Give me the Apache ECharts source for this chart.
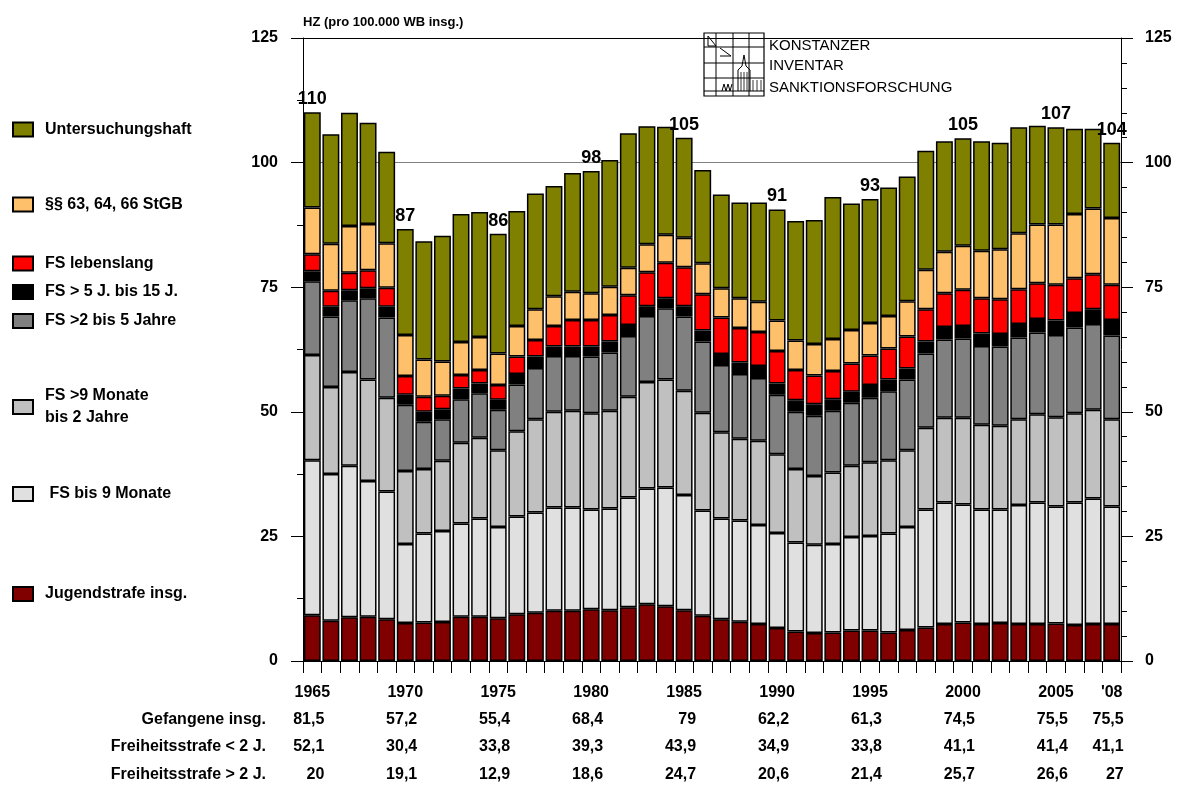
<!DOCTYPE html>
<html><head><meta charset="utf-8">
<script src="https://cdn.jsdelivr.net/npm/echarts@6/dist/echarts.min.js"></script>
<style>html,body{margin:0;padding:0;background:#fff}#c{width:1180px;height:787px}</style>
</head><body><div id="c"></div><script>
// ---------- DATA ----------
const years = ['1965','1966','1967','1968','1969','1970','1971','1972','1973','1974','1975','1976','1977','1978','1979','1980','1981','1982','1983','1984','1985','1986','1987','1988','1989','1990','1991','1992','1993','1994','1995','1996','1997','1998','1999','2000','2001','2002','2003','2004','2005','2006','2007','2008'];

const jugendstrafe = [9.2,8.1,8.8,8.9,8.4,7.6,7.7,7.8,8.9,8.9,8.6,9.4,9.7,10.1,10.1,10.4,10.2,10.8,11.4,11.0,10.2,9.1,8.4,7.9,7.4,6.6,5.9,5.6,5.7,6.1,6.1,5.7,6.2,6.7,7.4,7.7,7.4,7.6,7.4,7.4,7.5,7.2,7.4,7.4];
const fsBis9Monate = [31.1,29.4,30.4,27.2,25.6,15.9,17.9,18.3,18.7,19.7,18.3,19.6,20.1,20.7,20.7,20.0,20.4,22.0,23.2,23.8,23.1,21.1,20.2,20.3,19.9,19.1,17.9,17.7,17.8,18.8,19.0,19.9,20.7,23.7,24.4,23.7,23.0,22.8,23.9,24.4,23.5,24.6,25.2,23.6];
const fs9MonateBis2J = [21.1,17.5,18.8,20.4,18.8,14.6,12.9,14.1,16.2,16.2,15.4,17.1,18.7,19.2,19.4,19.3,19.6,20.2,21.4,21.7,20.9,19.6,17.3,16.4,16.9,15.8,14.7,13.8,14.3,14.3,14.8,14.7,15.4,16.4,17.0,17.4,17.0,16.8,17.2,17.7,17.9,17.9,17.8,17.5];
const fs2bis5J = [14.8,14.1,14.4,16.3,16.1,13.3,9.5,8.3,8.7,8.9,8.1,9.4,10.3,11.2,11.0,11.4,11.7,12.2,13.2,14.3,14.9,14.3,13.5,13.0,12.6,11.9,11.5,12.1,12.4,12.6,12.9,13.8,14.2,14.9,15.7,15.9,15.8,15.9,16.4,16.4,16.5,17.2,17.2,16.8];
const fs5bis15J = [2.0,2.0,2.0,2.0,2.2,2.0,2.0,2.0,2.2,2.0,2.0,2.1,2.3,1.9,1.9,2.0,2.2,2.2,2.0,2.0,2.1,2.2,2.2,2.3,2.4,2.3,2.3,2.3,2.3,2.2,2.6,2.4,2.2,2.4,2.5,2.5,2.5,2.5,2.7,2.7,2.9,2.9,3.0,3.1];
const fsLebenslang = [3.4,3.2,3.5,3.6,3.8,3.8,3.0,2.7,2.7,2.7,3.0,3.5,3.3,4.1,5.3,5.3,5.3,6.0,6.8,7.1,7.8,7.3,7.3,6.9,6.8,6.5,6.1,5.8,5.7,5.7,5.9,6.2,6.4,6.5,6.8,7.3,7.1,7.0,7.0,7.2,7.2,7.0,7.0,7.1];
const massregeln = [9.4,9.4,9.4,9.3,8.9,8.2,7.5,6.9,6.6,6.6,6.3,6.1,6.2,6.0,5.7,5.4,5.7,5.5,5.6,5.6,5.9,6.2,5.9,6.0,6.1,6.1,5.9,6.3,6.4,6.7,6.5,6.5,7.1,7.9,8.3,8.8,9.5,10.0,11.2,11.8,12.1,12.9,13.2,13.4];
const untersuchungshaft = [19.1,22.0,22.7,20.3,18.4,21.3,23.7,25.2,25.7,25.1,24.0,23.1,23.2,22.1,23.8,24.5,25.4,27.0,23.7,21.7,20.1,18.7,18.8,19.2,19.9,22.3,24.0,24.9,28.5,25.4,24.9,25.8,25.0,23.9,22.2,21.6,22.0,21.4,21.3,19.8,19.5,17.1,16.0,15.1];

// labels above bars
const topLabelYears = ['1965','1970','1975','1980','1985','1990','1995','2000','2005','2008'];
const topLabelValues = [110,87,86,98,105,91,93,105,107,104];

// x tick labels
const tickYears = ['1965','1970','1975','1980','1985','1990','1995','2000','2005','2008'];
const tickLabels = ['1965','1970','1975','1980','1985','1990','1995','2000','2005',"'08"];

// table under chart
const tableYears = ['1965','1970','1975','1980','1985','1990','1995','2000','2005','2008'];
const rowNames = ['Gefangene insg.','Freiheitsstrafe < 2 J.','Freiheitsstrafe > 2 J.'];
const gefangeneInsg = [81.5,57.2,55.4,68.4,79,62.2,61.3,74.5,75.5,75.5];
const fsUnter2J = [52.1,30.4,33.8,39.3,43.9,34.9,33.8,41.1,41.4,41.1];
const fsUeber2J = [20,19.1,12.9,18.6,24.7,20.6,21.4,25.7,26.6,27];

// ---------- CHART ----------
const FONT = '"Liberation Sans", Arial, Helvetica, sans-serif';
const chart = echarts.init(document.getElementById('c'), null, {renderer:'canvas'});

const seriesDefs = [
  {name:'Jugendstrafe insg.', data:jugendstrafe, color:'#800000', legendY:594},
  {name:' FS bis 9 Monate', data:fsBis9Monate, color:'#E0E0E0', legendY:494},
  {name:'FS >9 Monate bis 2 Jahre', data:fs9MonateBis2J, color:'#C0C0C0', legendY:407, twoLine:true},
  {name:'FS >2 bis 5 Jahre', data:fs2bis5J, color:'#808080', legendY:321},
  {name:'FS > 5 J. bis 15 J.', data:fs5bis15J, color:'#000000', legendY:292},
  {name:'FS lebenslang', data:fsLebenslang, color:'#FF0000', legendY:263.5},
  {name:'§§ 63, 64, 66 StGB', data:massregeln, color:'#FFC06C', legendY:204.5},
  {name:'Untersuchungshaft', data:untersuchungshaft, color:'#808000', legendY:129.5}
];

const series = seriesDefs.map((d, i) => ({
  name: d.name,
  type: 'bar',
  stack: 'total',
  data: d.data,
  barCategoryGap: '9%',
  itemStyle: {color: d.color, borderColor: '#000', borderWidth: 1.5},
  emphasis: {disabled: true},
  label: i === seriesDefs.length - 1 ? {
    show: true, position: 'top', distance: 4,
    fontFamily: FONT, fontWeight: 'bold', fontSize: 18, color: '#000',
    formatter: p => {
      const k = topLabelYears.indexOf(p.name);
      return k >= 0 ? String(topLabelValues[k]) : '';
    }
  } : {show: false}
}));

const legends = seriesDefs.map(d => ({
  data: [d.name],
  left: 12,
  top: d.twoLine ? d.legendY - 22 : d.legendY - 9,
  padding: 0,
  icon: 'rect',
  itemWidth: 20,
  itemHeight: 14,
  selectedMode: false,
  formatter: d.twoLine ? () => 'FS >9 Monate\nbis 2 Jahre' : undefined,
  textStyle: {fontFamily: FONT, fontWeight: 'bold', fontSize: 16, color: '#000',
              lineHeight: d.twoLine ? 22 : 18, padding: [0,0,0,7]}
}));

const fmtNum = v => String(v).replace('.', ',');
const tableRows = [gefangeneInsg, fsUnter2J, fsUeber2J];
const rowOffsets = [59, 86, 114];

const tableAxes = tableRows.map((row, r) => ({
  type: 'category', data: years, gridIndex: 0, position: 'bottom', offset: rowOffsets[r],
  axisLine: {show: false}, axisTick: {show: false}, splitLine: {show: false},
  axisLabel: {
    interval: 0, margin: 0, verticalAlign: 'middle', align: 'right', padding: [0,-12,0,0],
    fontFamily: FONT, fontWeight: 'bold', fontSize: 16, color: '#000',
    formatter: v => { const k = tableYears.indexOf(v); return k >= 0 ? fmtNum(row[k]) : ''; }
  }
}));

const rowTitleTexts = rowNames.map((n, r) => ({
  type: 'text', x: 266, y: 661 + rowOffsets[r],
  style: {text: n, font: 'bold 16px ' + FONT, fill: '#000', textAlign: 'right', textVerticalAlign: 'middle', verticalAlign: 'middle'}
}));

const yCommon = {
  type: 'value', min: 0, max: 125, interval: 25,
  axisLine: {show: true, lineStyle: {color: '#000', width: 1}},
  axisTick: {show: true, length: 12, lineStyle: {color: '#000'}},
  axisLabel: {fontFamily: FONT, fontWeight: 'bold', fontSize: 16, color: '#000'}
};

// logo drawing
const logoChildren = [
  {type:'rect', shape:{x:700, y:29, width:278, height:70}, style:{fill:'#fff'}},
  {type:'rect', shape:{x:704, y:33, width:60, height:63}, style:{fill:'#fff', stroke:'#000', lineWidth:1.2}},
  {type:'line', shape:{x1:716, y1:33, x2:716, y2:96}, style:{stroke:'#000', lineWidth:1}},
  {type:'line', shape:{x1:733, y1:33, x2:733, y2:96}, style:{stroke:'#000', lineWidth:1}},
  {type:'line', shape:{x1:749, y1:33, x2:749, y2:96}, style:{stroke:'#000', lineWidth:1}},
  {type:'line', shape:{x1:704, y1:47, x2:764, y2:47}, style:{stroke:'#000', lineWidth:1}},
  {type:'line', shape:{x1:704, y1:63, x2:764, y2:63}, style:{stroke:'#000', lineWidth:1}},
  {type:'line', shape:{x1:704, y1:78, x2:764, y2:78}, style:{stroke:'#000', lineWidth:1}},
  {type:'line', shape:{x1:704, y1:91, x2:764, y2:91}, style:{stroke:'#000', lineWidth:1}},
  {type:'polyline', shape:{points:[[708,36],[708,46],[716,46],[708,36]]}, style:{stroke:'#000', fill:'none', lineWidth:1}},
  {type:'polyline', shape:{points:[[720,48],[731,56],[720,56]]}, style:{stroke:'#000', fill:'none', lineWidth:1}},
  {type:'polyline', shape:{points:[[738,91],[738,70],[742,66],[744,55],[746,66],[750,70],[750,91]]}, style:{stroke:'#000', fill:'none', lineWidth:1}},
  {type:'line', shape:{x1:741, y1:72, x2:741, y2:91}, style:{stroke:'#000', lineWidth:0.8}},
  {type:'line', shape:{x1:744, y1:72, x2:744, y2:91}, style:{stroke:'#000', lineWidth:0.8}},
  {type:'line', shape:{x1:747, y1:72, x2:747, y2:91}, style:{stroke:'#000', lineWidth:0.8}},
  {type:'polyline', shape:{points:[[722,91],[724,84],[726,91],[728,84],[730,91],[732,84]]}, style:{stroke:'#000', fill:'none', lineWidth:1}},
  {type:'line', shape:{x1:753, y1:80, x2:753, y2:91}, style:{stroke:'#000', lineWidth:0.8}},
  {type:'line', shape:{x1:757, y1:80, x2:757, y2:91}, style:{stroke:'#000', lineWidth:0.8}},
  {type:'line', shape:{x1:761, y1:80, x2:761, y2:91}, style:{stroke:'#000', lineWidth:0.8}},
  {type:'text', x:769, y:46, style:{text:'KONSTANZER', font:'15px ' + FONT, fill:'#000', verticalAlign:'middle'}},
  {type:'text', x:769, y:66, style:{text:'INVENTAR', font:'15px ' + FONT, fill:'#000', verticalAlign:'middle'}},
  {type:'text', x:769, y:88, style:{text:'SANKTIONSFORSCHUNG', font:'15px ' + FONT, fill:'#000', verticalAlign:'middle'}}
];

chart.setOption({
  animation: false,
  backgroundColor: '#fff',
  textStyle: {fontFamily: FONT},
  title: {text: 'HZ (pro 100.000 WB insg.)', left: 303, top: 16, padding: 0,
          textStyle: {fontFamily: FONT, fontWeight: 'bold', fontSize: 13, color: '#000'}},
  legend: legends,
  grid: {left: 303, right: 59, top: 38, bottom: 126, containLabel: false},
  xAxis: [{
    type: 'category', data: years, gridIndex: 0, position: 'bottom',
    axisLine: {show: true, lineStyle: {color: '#000', width: 1}},
    axisTick: {show: true, interval: 0, length: 12, lineStyle: {color: '#000'}},
    splitLine: {show: false},
    axisLabel: {
      interval: 0, margin: 24, fontFamily: FONT, fontWeight: 'bold', fontSize: 16, color: '#000',
      formatter: v => { const k = tickYears.indexOf(v); return k >= 0 ? tickLabels[k] : ''; }
    }
  }].concat(tableAxes),
  yAxis: [
    Object.assign({}, yCommon, {
      position: 'left',
      minorTick: {show: true, splitNumber: 2, length: 6, lineStyle: {color: '#000'}},
      axisLabel: Object.assign({}, yCommon.axisLabel, {margin: 25}),
      splitLine: {show: true, lineStyle: {width: 1, color: ['rgba(0,0,0,0)','rgba(0,0,0,0)','rgba(0,0,0,0)','rgba(0,0,0,0)','#808080','#000']}}
    }),
    Object.assign({}, yCommon, {
      position: 'right',
      minorTick: {show: true, splitNumber: 5, length: 6, lineStyle: {color: '#000'}},
      axisLabel: Object.assign({}, yCommon.axisLabel, {margin: 24}),
      splitLine: {show: false}
    })
  ],
  series: series,
  graphic: [{type: 'group', z: 100, children: logoChildren.concat(rowTitleTexts)}]
});
</script></body></html>
